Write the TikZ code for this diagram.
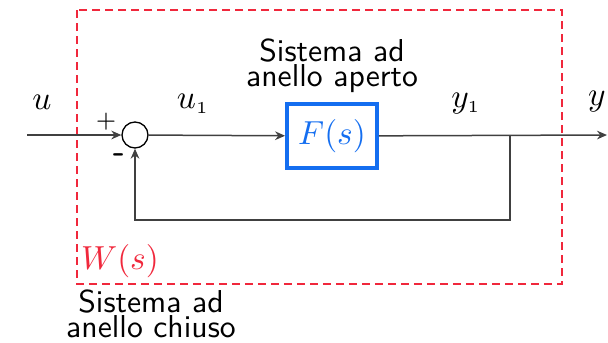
\documentclass[tikz,border=0pt]{standalone}
\usepackage{tikz}
\usetikzlibrary{positioning,arrows.meta}
\definecolor{blockblue}{RGB}{20,110,240}
\definecolor{loopred}{RGB}{240,40,60}

\begin{document}
\begin{tikzpicture}[x=0.3pt, y=-0.3pt, >={Stealth[length=3pt,width=2.6pt]},
    wire/.style={black!75, line width=0.45pt},
    caption/.style={align=center, font=\sffamily\fontsize{9.5}{7.6}\selectfont}]
                \useasboundingbox (0,0) rectangle (608,342);
                \draw[loopred, line width=0.6pt, dash pattern=on 2.4pt off 1.5pt] (77,10) rectangle (562,284);
                \node (sum) [draw, circle, thin, inner sep=0pt, minimum size=7.8pt] at (135,135) {};
                \node (plant) [draw=blockblue, very thick, text=blockblue, minimum width=25.5pt, minimum height=19.2pt] at (332,136) {$F(s)$};
                \coordinate (in) at (27,135);
                \coordinate (out) at (607,135);
                \coordinate (branch) at (510,135);
                \coordinate (back) at (135,220);
                \node (plus) [font=\scriptsize] at (106,122) {$+$};
                \node (minus) [font=\sffamily\bfseries] at (119,158) {-};
                \node (u) at (42,102) {$u$};
                \node (u1) at (193,104) {$u_{\scriptscriptstyle 1}$};
                \node (y1) at (466,104) {$y_{\scriptscriptstyle 1}$};
                \node (y) at (597,102) {$y$};
                \node (open) [caption] at (332,66) {Sistema ad\\anello aperto};
                \node (ws) [text=loopred] at (120,261) {$W(s)$};
                \node (closed) [caption] at (151,314) {Sistema ad\\anello chiuso};
                \draw[wire, ->] (in) -- (sum);
                \draw[wire, ->] (sum) -- (plant);
                \draw[wire, ->] (plant) -- (out);
                \draw[wire, ->] (branch) |- (back) -- (sum);
            \end{tikzpicture}
\end{document}
